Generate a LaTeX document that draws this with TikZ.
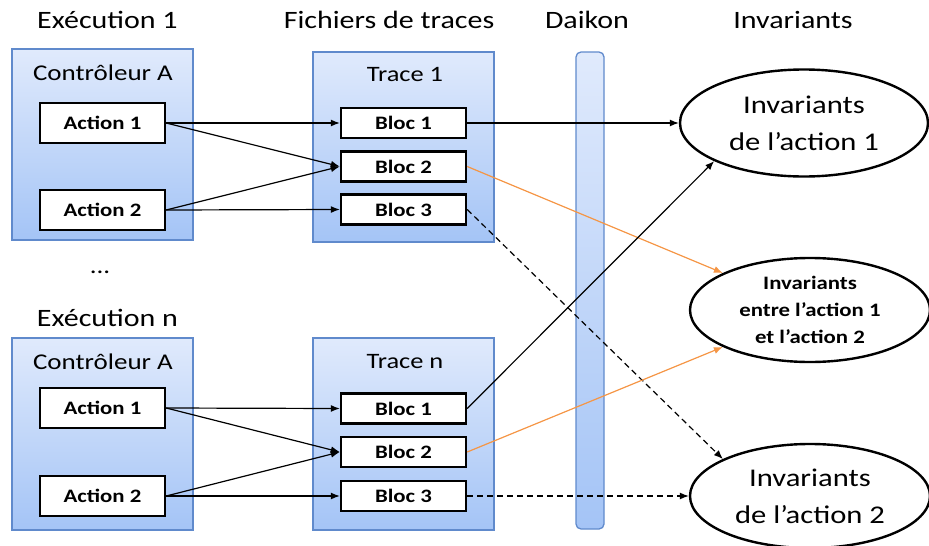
\documentclass[tikz,border=0pt]{standalone}
\usepackage{fontspec}
\setmainfont{Carlito}[FakeStretch=1.2]
\usetikzlibrary{arrows.meta,shapes.geometric,positioning}
\definecolor{boxtop}{RGB}{224,234,252}
\definecolor{boxbot}{RGB}{164,196,246}
\definecolor{boxline}{RGB}{96,138,204}
\definecolor{linkorange}{RGB}{245,150,70}

\begin{document}
\begin{tikzpicture}[x=1pt, y=-1pt,
		header/.style={font=\fontsize{25}{30}\selectfont},
		title/.style={font=\fontsize{22.5}{27}\selectfont},
		group/.style={draw=boxline, line width=1.3pt, top color=boxtop, bottom color=boxbot,
			minimum width=181pt, minimum height=191pt, inner sep=0pt},
		item/.style={draw=black, line width=2.4pt, fill=white, minimum width=125pt,
			inner sep=0pt, font=\bfseries\fontsize{19}{22}\selectfont},
		inv/.style={ellipse, draw, line width=2.4pt, fill=white, inner sep=0pt, align=center},
		link/.style={line width=1.2pt, -{Latex[length=9pt,width=7pt]}},
		dash link/.style={link, dash pattern=on 6pt off 4pt}]
		\useasboundingbox (0,0) rectangle (929,546);
		% column titles
		\node [header] (hexec) at (107.5,20) {Exécution 1};
		\node [header] (htrace) at (389,20) {Fichiers de traces};
		\node [header] (hdaikon) at (587,20) {Daikon};
		\node [header] (hinv) at (793,20) {Invariants};
		% execution 1
		\node [group] (exec1) at (102.5,144.5) {};
		\node [title] (ctl1) at (103,73) {Contrôleur A};
		\node [item, minimum height=40pt] (a11) at (102.5,123) {Action 1};
		\node [item, minimum height=40pt] (a12) at (102.5,210) {Action 2};
		\node [group, minimum height=190pt] (trace1) at (403.5,147) {};
		\node [title, font=\fontsize{22}{26}\selectfont] (tt1) at (405,75) {Trace 1};
		\node [item, minimum height=30pt] (b11) at (403.5,123) {Bloc 1};
		\node [item, minimum height=30pt] (b12) at (403.5,166.5) {Bloc 2};
		\node [item, minimum height=30pt] (b13) at (403.5,209.5) {Bloc 3};
		% execution n
		\node [title] (dots) at (100,272) {...};
		\node [header] (hexecn) at (107.5,318) {Exécution n};
		\node [group, minimum height=192pt] (execn) at (102.5,434) {};
		\node [title] (ctln) at (103,362) {Contrôleur A};
		\node [item, minimum height=40pt] (an1) at (102.5,408) {Action 1};
		\node [item, minimum height=40pt] (an2) at (102.5,496) {Action 2};
		\node [group, minimum height=192pt] (tracen) at (403.5,434) {};
		\node [title, font=\fontsize{22}{26}\selectfont] (ttn) at (405,362) {Trace n};
		\node [item, minimum height=30pt] (bn1) at (403.5,408.5) {Bloc 1};
		\node [item, minimum height=30pt] (bn2) at (403.5,452) {Bloc 2};
		\node [item, minimum height=30pt] (bn3) at (403.5,496) {Bloc 3};
		% daikon
		\node [draw=boxline, line width=1.3pt, rounded corners=5pt, top color=boxtop,
			bottom color=boxbot, minimum width=28pt, minimum height=477pt, inner sep=0pt]
			(daikon) at (590,290.5) {};
		% invariants
		\node [inv, minimum width=248pt, minimum height=107pt, font=\fontsize{25.5}{37}\selectfont]
			(inv1) at (804,123) {Invariants\\de l’action 1};
		\node [inv, minimum width=240pt, minimum height=104pt, font=\bfseries\fontsize{19}{27}\selectfont]
			(inv12) at (810,310) {Invariants\\entre l’action 1\\et l’action 2};
		\node [inv, minimum width=240pt, minimum height=104pt, font=\fontsize{25.5}{37}\selectfont]
			(inv2) at (810,496) {Invariants\\de l’action 2};
		% actions to blocs
		\draw [link] (a11.east) -- (b11.west);
		\draw [link] (a11.east) -- (b12.west);
		\draw [link] (a12.east) -- (b12.west);
		\draw [link] (a12.east) -- (b13.west);
		\draw [link] (an1.east) -- (bn1.west);
		\draw [link] (an1.east) -- (bn2.west);
		\draw [link] (an2.east) -- (bn2.west);
		\draw [link] (an2.east) -- (bn3.west);
		% blocs to invariants
		\draw [link] (b11.east) -- (inv1.west);
		\draw [link, draw=linkorange, fill=linkorange] (b12.east) -- (inv12.157);
		\draw [dash link] (b13.east) -- (inv2.157);
		\draw [link] (bn1.east) -- (inv1.203);
		\draw [link, draw=linkorange, fill=linkorange] (bn2.east) -- (inv12.203);
		\draw [dash link] (bn3.east) -- (inv2.west);
	\end{tikzpicture}
\end{document}
